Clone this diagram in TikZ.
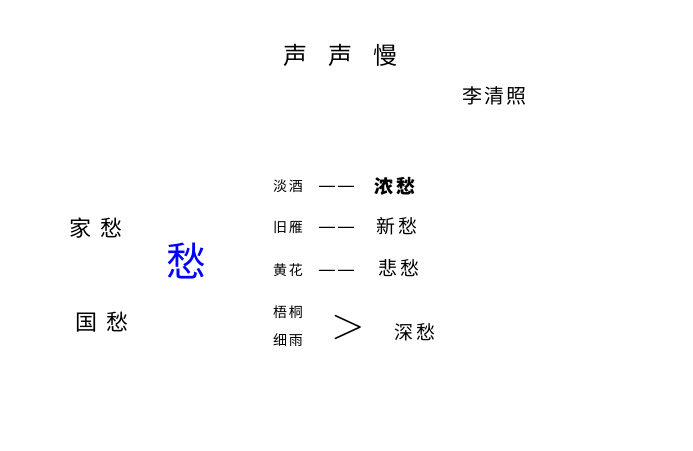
\documentclass[tikz,border=0pt]{standalone}
\usepackage{fontspec}
\newfontfamily\cjk{Noto Sans CJK SC}
\begin{document}
\begin{tikzpicture}[x=1pt,y=-1pt,
  txt/.style={inner sep=0pt,outer sep=0pt,font=\cjk\fontsize{14}{14}\selectfont,text=black},
  mid/.style={txt,font=\cjk\fontsize{19}{19}\selectfont},
  big/.style={txt,font=\cjk\fontsize{22}{22}\selectfont},
  dsh/.style={txt,font=\cjk\fontsize{20}{20}\selectfont}]
\useasboundingbox[fill=white] (0,0) rectangle (693,450);
\node[txt,font=\cjk\fontsize{24}{24}\selectfont] (title) at (340,55) {声\hspace{21pt}声\hspace{21pt}慢};
\node[txt,font=\cjk\fontsize{20}{20}\selectfont] (author) at (494,96) {李\hspace{2pt}清\hspace{2pt}照};
\node[big] (jia) at (96,228) {家\hspace{10pt}愁};
\node[big] (guo) at (102,322) {国\hspace{10pt}愁};
\node[txt,font=\cjk\fontsize{40}{40}\selectfont,text=blue] (chou) at (186,261) {愁};
\node[txt] (a1) at (288,186) {淡\hspace{2pt}酒};
\node[txt] (a2) at (288,227) {旧\hspace{2pt}雁};
\node[txt] (a3) at (288,270) {黄\hspace{2pt}花};
\node[txt] (a4) at (288,312) {梧\hspace{2pt}桐};
\node[txt] (a5) at (288,340) {细\hspace{2pt}雨};
\node[dsh] (d1) at (337,189) {—\hspace{1.5pt}—};
\node[dsh] (d2) at (337,230) {—\hspace{1.5pt}—};
\node[dsh] (d3) at (337,273) {—\hspace{1.5pt}—};
\node[txt,font=\fontsize{44}{44}\selectfont] (gt) at (348,328) {>};
\node[mid,font=\cjk\bfseries\fontsize{19}{19}\selectfont] (b1) at (395,186) {浓\hspace{3pt}愁};
\node[mid] (b2) at (397,226) {新\hspace{3pt}愁};
\node[mid] (b3) at (399,268) {悲\hspace{3pt}愁};
\node[mid] (b4) at (415,332) {深\hspace{3pt}愁};
\end{tikzpicture}
\end{document}
